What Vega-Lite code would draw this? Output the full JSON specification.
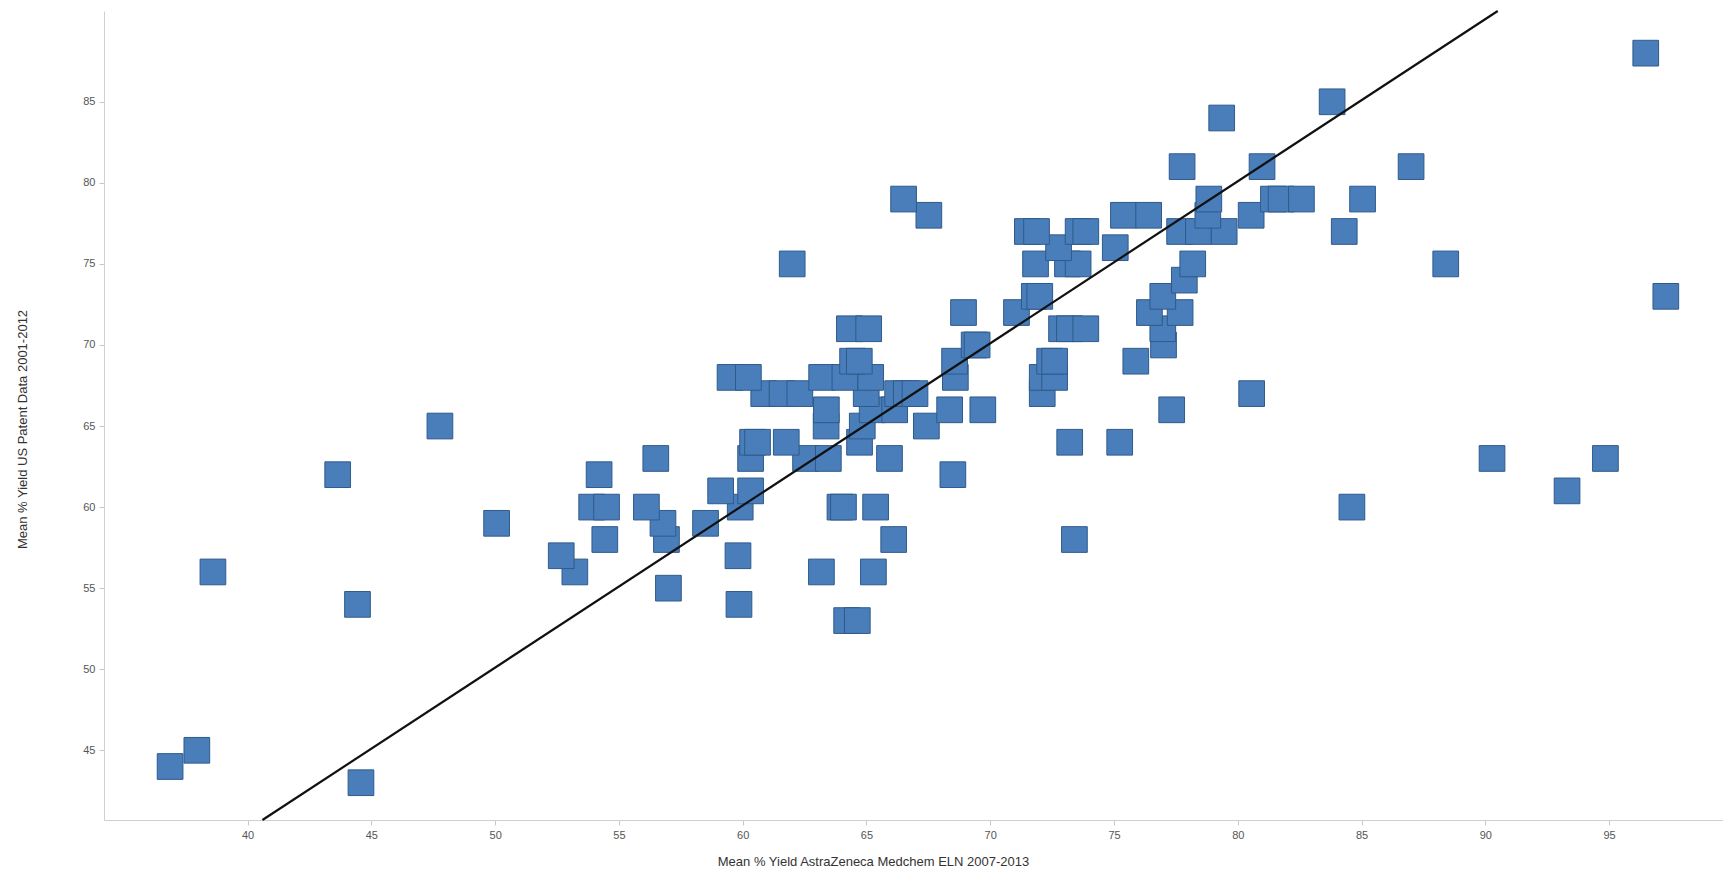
{
  "$schema": "https://vega.github.io/schema/vega-lite/v6.json",
  "autosize": "none",
  "width": 1619,
  "height": 809,
  "padding": {"left": 104, "top": 11, "right": 0, "bottom": 49},
  "background": "white",
  "config": {"view": {"stroke": null}, "font": "Liberation Sans"},
  "datasets": {
    "points": [
      {"eln": 36.87, "patent": 44}, {"eln": 37.95, "patent": 45}, {"eln": 44.58, "patent": 43},
      {"eln": 38.6, "patent": 56}, {"eln": 43.64, "patent": 62}, {"eln": 44.44, "patent": 54},
      {"eln": 47.77, "patent": 65}, {"eln": 50.06, "patent": 59},
      {"eln": 64.2, "patent": 53}, {"eln": 64.63, "patent": 53},
      {"eln": 59.85, "patent": 54}, {"eln": 57.0, "patent": 55},
      {"eln": 53.22, "patent": 56}, {"eln": 63.18, "patent": 56}, {"eln": 65.28, "patent": 56},
      {"eln": 52.67, "patent": 57}, {"eln": 59.81, "patent": 57},
      {"eln": 54.43, "patent": 58}, {"eln": 56.92, "patent": 58}, {"eln": 66.1, "patent": 58}, {"eln": 73.4, "patent": 58},
      {"eln": 56.78, "patent": 59}, {"eln": 58.5, "patent": 59},
      {"eln": 53.9, "patent": 60}, {"eln": 54.5, "patent": 60}, {"eln": 56.11, "patent": 60}, {"eln": 59.9, "patent": 60},
      {"eln": 63.93, "patent": 60}, {"eln": 64.07, "patent": 60}, {"eln": 65.37, "patent": 60}, {"eln": 84.61, "patent": 60},
      {"eln": 59.11, "patent": 61}, {"eln": 60.32, "patent": 61}, {"eln": 93.3, "patent": 61},
      {"eln": 54.2, "patent": 62}, {"eln": 68.49, "patent": 62},
      {"eln": 56.49, "patent": 63}, {"eln": 60.32, "patent": 63}, {"eln": 62.54, "patent": 63}, {"eln": 63.46, "patent": 63},
      {"eln": 65.93, "patent": 63}, {"eln": 90.27, "patent": 63}, {"eln": 94.85, "patent": 63},
      {"eln": 60.4, "patent": 64}, {"eln": 60.6, "patent": 64}, {"eln": 61.76, "patent": 64}, {"eln": 64.72, "patent": 64},
      {"eln": 73.21, "patent": 64}, {"eln": 75.23, "patent": 64},
      {"eln": 63.37, "patent": 65}, {"eln": 64.83, "patent": 65}, {"eln": 67.42, "patent": 65},
      {"eln": 63.38, "patent": 66}, {"eln": 65.23, "patent": 66}, {"eln": 66.14, "patent": 66}, {"eln": 68.36, "patent": 66},
      {"eln": 69.7, "patent": 66}, {"eln": 77.33, "patent": 66},
      {"eln": 60.85, "patent": 67}, {"eln": 61.59, "patent": 67}, {"eln": 62.31, "patent": 67}, {"eln": 64.99, "patent": 67},
      {"eln": 66.26, "patent": 67}, {"eln": 66.61, "patent": 67}, {"eln": 66.96, "patent": 67}, {"eln": 72.1, "patent": 67},
      {"eln": 80.56, "patent": 67},
      {"eln": 59.49, "patent": 68}, {"eln": 60.23, "patent": 68}, {"eln": 63.19, "patent": 68}, {"eln": 64.13, "patent": 68},
      {"eln": 65.17, "patent": 68}, {"eln": 68.59, "patent": 68}, {"eln": 72.1, "patent": 68}, {"eln": 72.6, "patent": 68},
      {"eln": 64.44, "patent": 69}, {"eln": 64.71, "patent": 69}, {"eln": 68.56, "patent": 69}, {"eln": 72.4, "patent": 69},
      {"eln": 72.6, "patent": 69}, {"eln": 75.88, "patent": 69},
      {"eln": 69.35, "patent": 70}, {"eln": 69.47, "patent": 70}, {"eln": 77.0, "patent": 70},
      {"eln": 64.31, "patent": 71}, {"eln": 65.09, "patent": 71}, {"eln": 72.88, "patent": 71}, {"eln": 73.2, "patent": 71},
      {"eln": 73.86, "patent": 71}, {"eln": 76.97, "patent": 71},
      {"eln": 68.92, "patent": 72}, {"eln": 71.06, "patent": 72}, {"eln": 76.43, "patent": 72}, {"eln": 77.67, "patent": 72},
      {"eln": 71.78, "patent": 73}, {"eln": 72.0, "patent": 73}, {"eln": 76.97, "patent": 73}, {"eln": 97.29, "patent": 73},
      {"eln": 77.84, "patent": 74},
      {"eln": 62.0, "patent": 75}, {"eln": 71.83, "patent": 75}, {"eln": 73.12, "patent": 75}, {"eln": 73.55, "patent": 75},
      {"eln": 78.18, "patent": 75}, {"eln": 88.4, "patent": 75},
      {"eln": 72.76, "patent": 76}, {"eln": 75.05, "patent": 76},
      {"eln": 71.5, "patent": 77}, {"eln": 71.87, "patent": 77}, {"eln": 73.55, "patent": 77}, {"eln": 73.86, "patent": 77},
      {"eln": 77.65, "patent": 77}, {"eln": 78.41, "patent": 77}, {"eln": 79.45, "patent": 77}, {"eln": 84.3, "patent": 77},
      {"eln": 67.52, "patent": 78}, {"eln": 75.38, "patent": 78}, {"eln": 76.4, "patent": 78}, {"eln": 78.79, "patent": 78},
      {"eln": 80.54, "patent": 78},
      {"eln": 66.5, "patent": 79}, {"eln": 78.83, "patent": 79}, {"eln": 81.44, "patent": 79}, {"eln": 81.75, "patent": 79},
      {"eln": 82.57, "patent": 79}, {"eln": 85.04, "patent": 79},
      {"eln": 77.75, "patent": 81}, {"eln": 80.98, "patent": 81}, {"eln": 87.0, "patent": 81},
      {"eln": 79.35, "patent": 84}, {"eln": 83.81, "patent": 85}, {"eln": 96.48, "patent": 88}
    ],
    "fit": [
      {"eln": 40.6, "patent": 40.7},
      {"eln": 90.5, "patent": 90.6}
    ]
  },
  "layer": [
    {
      "data": {"name": "points"},
      "mark": {"type": "point", "shape": "square", "filled": true, "size": 660, "fill": "#4A7EBB", "stroke": "#2F5A8A", "strokeWidth": 1, "opacity": 1},
      "encoding": {
        "x": {
          "field": "eln", "type": "quantitative",
          "scale": {"domain": [34.2, 99.6], "nice": false, "zero": false},
          "axis": {
            "title": "Mean % Yield AstraZeneca Medchem ELN 2007-2013",
            "values": [40, 45, 50, 55, 60, 65, 70, 75, 80, 85, 90, 95],
            "grid": false, "domainColor": "#d0d0d0", "tickColor": "#c8c8c8", "tickSize": 5,
            "labelFont": "Liberation Sans", "labelFontSize": 11, "labelColor": "#555555", "labelPadding": 4,
            "titleFont": "Liberation Sans", "titleFontSize": 13, "titleFontWeight": "normal", "titleColor": "#333333",
            "titleX": 769, "titleY": 35, "titleAnchor": "middle", "titleBaseline": "top"
          }
        },
        "y": {
          "field": "patent", "type": "quantitative",
          "scale": {"domain": [40.7, 90.6], "nice": false, "zero": false},
          "axis": {
            "title": "Mean % Yield US Patent Data 2001-2012",
            "values": [45, 50, 55, 60, 65, 70, 75, 80, 85],
            "grid": false, "domainColor": "#d0d0d0", "tickColor": "#c8c8c8", "tickSize": 5,
            "labelFont": "Liberation Sans", "labelFontSize": 11, "labelColor": "#555555", "labelPadding": 4,
            "titleFont": "Liberation Sans", "titleFontSize": 13, "titleFontWeight": "normal", "titleColor": "#333333",
            "titleX": -75, "titleY": 418, "titleAnchor": "middle"
          }
        }
      }
    },
    {
      "data": {"name": "fit"},
      "mark": {"type": "line", "color": "#111111", "strokeWidth": 2.2},
      "encoding": {
        "x": {"field": "eln", "type": "quantitative"},
        "y": {"field": "patent", "type": "quantitative"}
      }
    }
  ]
}
